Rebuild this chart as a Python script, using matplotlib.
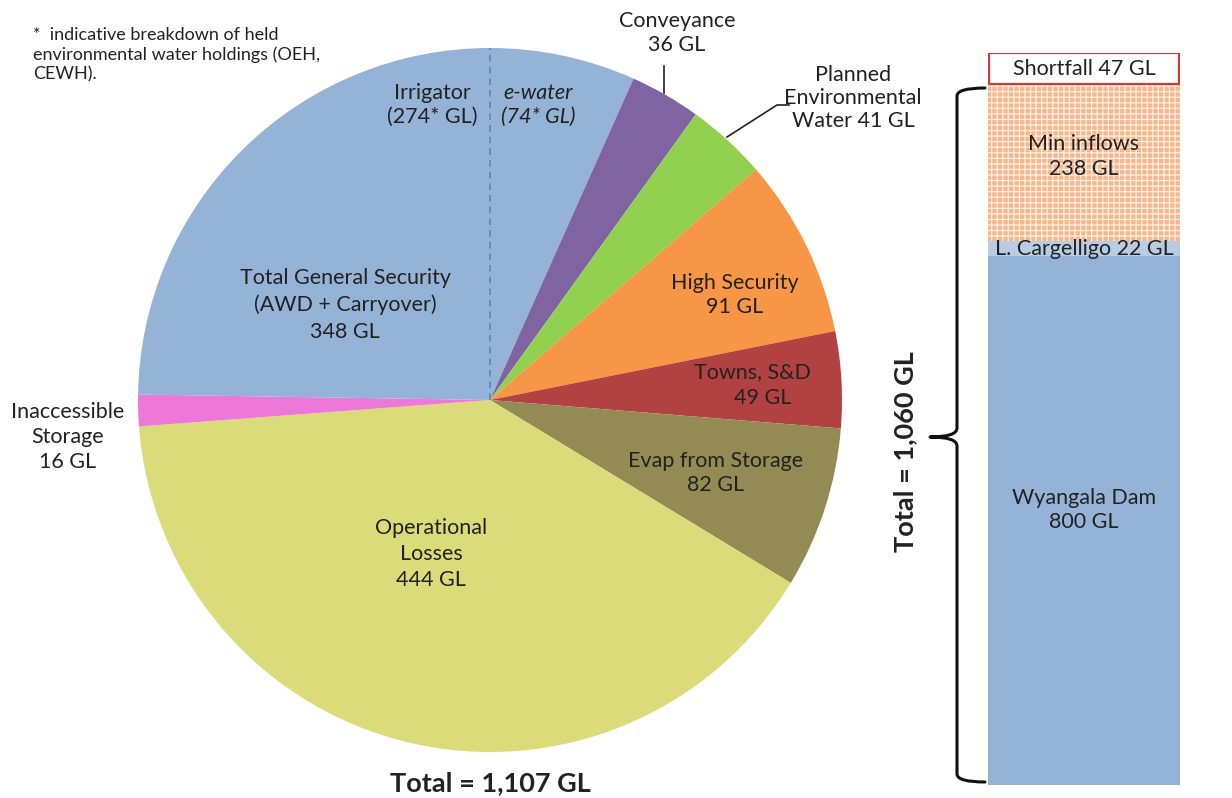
import matplotlib
matplotlib.use("Agg")
import matplotlib.pyplot as plt
from matplotlib.path import Path
from matplotlib.patches import PathPatch

plt.rcParams['font.family'] = ['Lato', 'DejaVu Sans']
plt.rcParams['hatch.linewidth'] = 0.9

# ---- data ----
pie_labels = ["e-water", "Conveyance", "Planned Environmental Water", "High Security",
              "Towns, S&D", "Evap from Storage", "Operational Losses",
              "Inaccessible Storage", "Irrigator"]
pie_values = [74, 36, 41, 91, 49, 82, 444, 16, 274]
pie_colors = ["#95B3D7", "#8064A2", "#92D050", "#F79646", "#B14241",
              "#948A54", "#DBDB79", "#EE78D9", "#95B3D7"]

bar_labels = ["Wyangala Dam", "L. Cargelligo", "Min inflows", "Shortfall"]
bar_values = [800, 22, 238, 47]

W, H = 1232, 798
fig = plt.figure(figsize=(W / 100, H / 100), dpi=100)
ax = fig.add_axes([0, 0, 1, 1])

def Y(y):
    return H - y

cx, cy, R = 490, 400, 352
ax.pie(pie_values, colors=pie_colors, startangle=90, counterclock=False,
       center=(cx, Y(cy)), radius=R, wedgeprops=dict(linewidth=0))
ax.set_xlim(0, W)
ax.set_ylim(0, H)
ax.set_aspect('equal')
ax.axis('off')

# dashed divider between irrigator and e-water
ax.plot([cx, cx], [Y(cy), Y(cy - R)], ls=(0, (4, 3)), color="#5A87C2", lw=1.2)

fs = 15.5
tc = "#222222"
def t(x, y, s, **kw):
    kw.setdefault('fontsize', fs)
    kw.setdefault('color', tc)
    kw.setdefault('ha', 'center')
    kw.setdefault('va', 'center')
    ax.text(x, Y(y), s, **kw)

t(33, 55, "*  indicative breakdown of held\nenvironmental water holdings (OEH,\nCEWH).",
  ha='left', fontsize=13, linespacing=1.25)
t(677, 33, "Conveyance\n36 GL", linespacing=1.25)
ax.plot([664, 664], [Y(66), Y(93)], color="#222222", lw=1.2)
t(853, 98, "Planned\nEnvironmental\nWater 41 GL", linespacing=1.2)
ax.plot([727, 777, 789], [Y(137), Y(105), Y(105)], color="#222222", lw=1.2)
t(432, 105, "Irrigator\n(274* GL)", linespacing=1.2)
t(538, 105, "e-water\n(74* GL)", linespacing=1.2, style='italic')
t(345, 305, "Total General Security\n(AWD + Carryover)\n348 GL", linespacing=1.4)
t(735, 295, "High Security\n91 GL", linespacing=1.2)
t(752, 372, "Towns, S&D")
t(763, 398, "49 GL")
t(716, 473, "Evap from Storage\n82 GL", linespacing=1.3)
t(431, 554, "Operational\nLosses\n444 GL", linespacing=1.35)
t(68, 437, "Inaccessible\nStorage\n16 GL", linespacing=1.33)
t(490, 783, "Total = 1,107 GL", fontsize=19.5, fontweight='bold')
t(905, 452, "Total = 1,060 GL", fontsize=19.5, fontweight='bold', rotation=90)

# brace
bx = 957
verts = [(985, Y(88)), (bx, Y(88)), (bx, Y(96)),
         (bx, Y(428)),
         (bx, Y(437)), (930, Y(437)),
         (bx, Y(437)), (bx, Y(446)),
         (bx, Y(774)),
         (bx, Y(782)), (985, Y(782))]
codes = [Path.MOVETO, Path.CURVE3, Path.CURVE3, Path.LINETO,
         Path.CURVE3, Path.CURVE3, Path.CURVE3, Path.CURVE3,
         Path.LINETO, Path.CURVE3, Path.CURVE3]
ax.add_patch(PathPatch(Path(verts, codes), fill=False, lw=2.2, color="#111111",
                       capstyle='round', joinstyle='round'))

# stacked bar
top_px, bot_px = 53, 785
ax2 = fig.add_axes([988 / W, (H - bot_px) / H, 192 / W, (bot_px - top_px) / H])
ax2.set_xlim(-0.5, 0.5)
ax2.set_ylim(0, sum(bar_values))
ax2.axis('off')
bfaces = ["#95B3D7", "#B8CCE4", "#F8B68A", "white"]
bottom = 0
for lab, v, fc in zip(bar_labels, bar_values, bfaces):
    if lab == "Min inflows":
        ax2.bar(0, v, bottom=bottom, width=1, color=fc, lw=0)
        ax2.bar(0, v, bottom=bottom, width=1, facecolor="none", edgecolor="#FEF1E7",
                hatch="+++", lw=0)
    elif lab == "Shortfall":
        ax2.bar(0, v, bottom=bottom, width=0.99, facecolor="white",
                edgecolor="#D03A3A", lw=1.6)
    else:
        ax2.bar(0, v, bottom=bottom, width=1, color=fc, lw=0)
    mid = bottom + v / 2
    ls = 1.25
    if lab == "Wyangala Dam":
        txt = "Wyangala Dam\n800 GL"
        mid = bottom + v * 0.52
    elif lab == "Min inflows":
        txt = "Min inflows\n238 GL"
        mid = bottom + v * 0.54
        ls = 1.35
    else:
        txt = f"{lab} {v} GL"
    ax2.text(0, mid, txt, ha='center', va='center', fontsize=fs, color=tc,
             linespacing=ls)
    bottom += v

fig.savefig("out.png", dpi=100)
